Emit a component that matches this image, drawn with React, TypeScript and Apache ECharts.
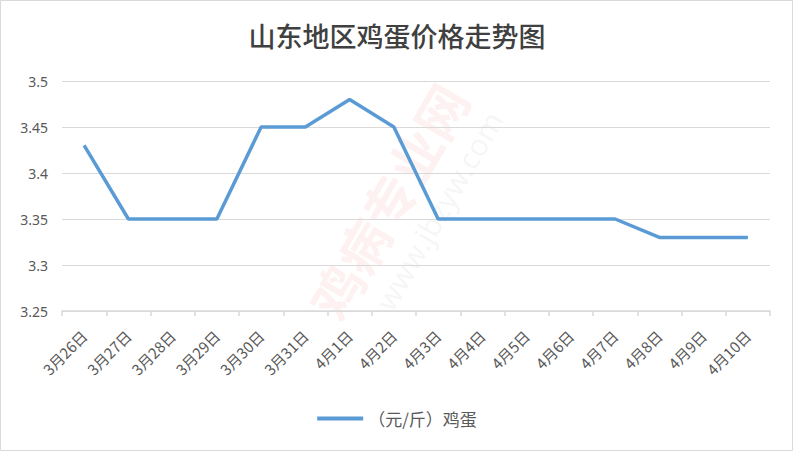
import React, { useEffect, useRef } from "react";
import * as echarts from "echarts";

const categories = ["3月26日", "3月27日", "3月28日", "3月29日", "3月30日", "3月31日", "4月1日", "4月2日", "4月3日", "4月4日", "4月5日", "4月6日", "4月7日", "4月8日", "4月9日", "4月10日"];
const eggPrices = [3.43, 3.35, 3.35, 3.35, 3.45, 3.45, 3.48, 3.45, 3.35, 3.35, 3.35, 3.35, 3.35, 3.33, 3.33, 3.33];
const yTicks = [3.25, 3.3, 3.35, 3.4, 3.45, 3.5];
const seriesName = "（元/斤）鸡蛋";
const titleText = "山东地区鸡蛋价格走势图";

export default function App() {
  const ref = useRef<HTMLDivElement>(null);
  useEffect(() => {
    document.body.style.margin = "0";
    const chart = echarts.init(ref.current!, null, { renderer: "svg" });
    chart.setOption({
      animation: false,
      backgroundColor: "#ffffff",
      title: {
        text: titleText,
        left: "center",
        top: 17,
        textStyle: { fontFamily: "Noto Sans CJK SC, serif", fontSize: 27, fontWeight: 500, color: "#404040" },
      },
      graphic: [
        { type: "rect", shape: { x: 0.5, y: 0.5, width: 792, height: 450 }, style: { fill: "none", stroke: "#d9d9d9", lineWidth: 1 }, z: -1 },
        { type: "text", x: 300, y: 300, rotation: Math.PI / 3, style: { text: "鸡病专业网", font: "bold 52px Noto Sans CJK SC", fill: "rgba(230,60,60,0.07)" }, z: -1 },
        { type: "text", x: 370, y: 300, rotation: Math.PI / 3, style: { text: "www.jbzyw.com", font: "30px Noto Sans", fill: "rgba(120,120,120,0.07)" }, z: -1 },
      ],
      legend: {
        bottom: 20,
        left: "center",
        itemWidth: 46,
        itemHeight: 4,
        itemGap: 10,
        icon: "rect",
        textStyle: { fontSize: 17, color: "#595959", fontFamily: "Noto Sans CJK SC" },
        data: [seriesName],
      },
      grid: { left: 62, right: 24, top: 81, bottom: 141 },
      xAxis: {
        type: "category",
        data: categories,
        boundaryGap: true,
        axisLine: { lineStyle: { color: "#d9d9d9", width: 1.5 } },
        axisTick: { show: true, length: 5, lineStyle: { color: "#d9d9d9", width: 1.5 } },
        axisLabel: { rotate: 45, interval: 0, margin: 22, fontSize: 15, color: "#595959", fontFamily: "Noto Sans CJK SC" },
      },
      yAxis: {
        type: "value",
        min: yTicks[0],
        max: yTicks[yTicks.length - 1],
        interval: 0.05,
        axisLine: { show: false },
        axisTick: { show: false },
        axisLabel: { fontSize: 14, color: "#595959", margin: 14, fontFamily: "Noto Sans", formatter: (v: number) => String(Math.round(v * 100) / 100) },
        splitLine: { lineStyle: { color: "#d9d9d9", width: 1 } },
      },
      series: [
        {
          name: seriesName,
          type: "line",
          data: eggPrices,
          symbol: "none",
          lineStyle: { color: "#5B9BD5", width: 3.5 },
          itemStyle: { color: "#5B9BD5" },
        },
      ],
    });
    return () => chart.dispose();
  }, []);
  return <div ref={ref} style={{ width: 794, height: 452 }} />;
}
